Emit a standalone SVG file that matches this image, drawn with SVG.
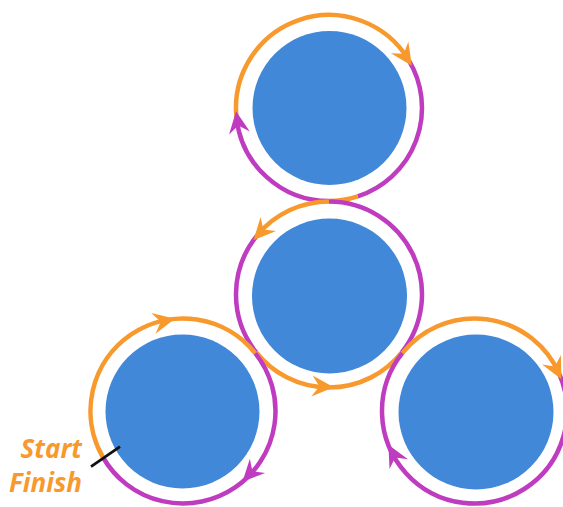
<svg xmlns="http://www.w3.org/2000/svg" xmlns:xlink="http://www.w3.org/1999/xlink" width="563" height="507" viewBox="0 0 563 507">
  <style>
    .disc { fill: #4288D8; }
    .arc { fill: none; stroke-width: 4.5; stroke-linecap: butt; }
    .o { stroke: #F8992D; }
    .p { stroke: #BF3BBF; }
    .ho { fill: #F8992D; }
    .hp { fill: #BF3BBF; }
    .label { font-family: "Open Sans", "Liberation Sans", sans-serif; font-style: italic; font-weight: 700; font-size: 26px; fill: #F8992D; text-anchor: end; }
  </style>
  <defs>
    <!-- notched arrowhead, tip at origin, pointing along +x -->
    <path id="head" d="M0,0 L-22,-10.5 L-14.5,0 L-22,10.5 Z"/>
  </defs>

  <rect width="563" height="507" fill="#FFFFFF"/>

  <!-- nodes -->
  <g id="node-top"><circle class="disc" cx="329.5" cy="108" r="77"/></g>
  <g id="node-middle"><circle class="disc" cx="329.5" cy="296" r="77.5"/></g>
  <g id="node-left"><circle class="disc" cx="182.5" cy="411.5" r="77"/></g>
  <g id="node-right"><circle class="disc" cx="476" cy="412" r="77.5"/></g>

  <!-- connectors: the route loops around each node -->
  <g id="connectors">
    <!-- top ring, centre (329,108) r 93 -->
    <path class="arc o" d="M236.51,117.72 A93,93 0 0 1 408.72,60.10"/>
    <path class="arc p" d="M408.72,60.10 A93,93 0 0 1 357.74,196.45"/>
    <path class="arc o" d="M357.74,196.45 A93,93 0 0 1 329,201"/>
    <path class="arc p" d="M329,201 A93,93 0 0 1 236.51,117.72"/>

    <!-- middle ring, centre (329,294.5) r 93 -->
    <path class="arc o" d="M257.45,235.09 A93,93 0 0 1 329,201.5"/>
    <path class="arc p" d="M256.32,352.52 A93,93 0 0 1 257.45,235.09"/>
    <path class="arc o" d="M401.57,352.65 A93,93 0 0 1 256.32,352.52"/>
    <path class="arc p" d="M329,201.5 A93,93 0 0 1 401.57,352.65"/>

    <!-- left ring, centre (183,411) r 92.5 -->
    <path class="arc o" d="M102.89,457.25 A92.5,92.5 0 0 1 255.29,353.29"/>
    <path class="arc p" d="M255.29,353.29 A92.5,92.5 0 1 1 102.89,457.25"/>

    <!-- right ring, centre (474.5,411) r 92.5 -->
    <path class="arc o" d="M402.32,353.17 A92.5,92.5 0 0 1 559.00,373.38"/>
    <path class="arc p" d="M559.00,373.38 A92.5,92.5 0 1 1 402.32,353.17"/>

    <!-- arrowheads -->
    <use xlink:href="#head" class="ho" transform="translate(174.94,318.85) rotate(348.2)"/>
    <use xlink:href="#head" class="hp" transform="translate(242.46,481.86) rotate(133.2)"/>
    <use xlink:href="#head" class="ho" transform="translate(333.87,387.37) rotate(3.8)"/>
    <use xlink:href="#head" class="ho" transform="translate(253.48,240.23) rotate(132.5)"/>
    <use xlink:href="#head" class="hp" transform="translate(236.06,111.25) rotate(261.2)"/>
    <use xlink:href="#head" class="ho" transform="translate(411.86,65.78) rotate(56.2)"/>
    <use xlink:href="#head" class="ho" transform="translate(561.42,379.36) rotate(63.2)"/>
    <use xlink:href="#head" class="hp" transform="translate(388.38,444.75) rotate(241.8)"/>
  </g>

  <!-- start / finish marker -->
  <g id="start-finish">
    <line x1="91" y1="466.7" x2="120" y2="446.7" stroke="#111111" stroke-width="2.8"/>
    <text class="label" x="82" y="458">Start</text>
    <text class="label" x="82" y="492">Finish</text>
  </g>
</svg>
